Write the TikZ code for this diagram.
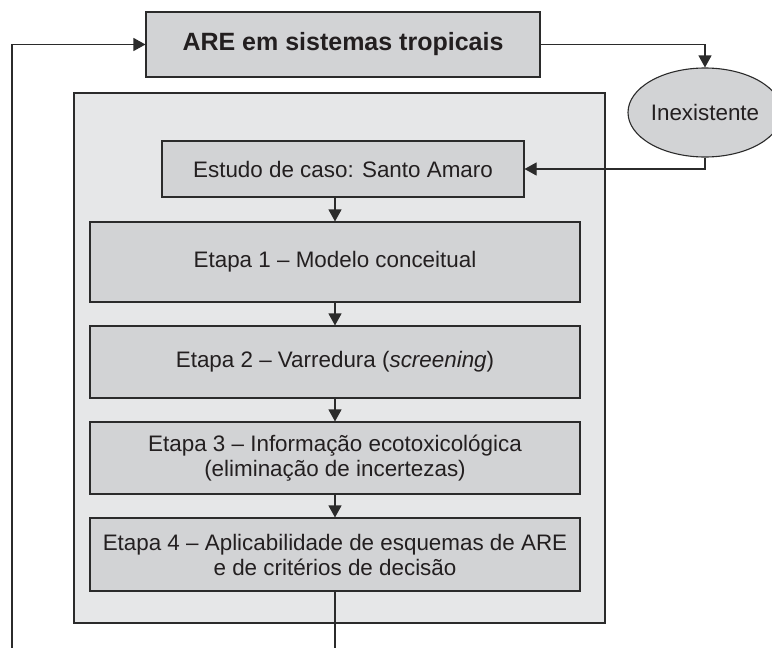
\documentclass[tikz,border=0pt]{standalone}
\usepackage{fontspec}
\setmainfont{Liberation Sans}
\usetikzlibrary{arrows.meta, shapes.geometric}
\definecolor{boxgray}{HTML}{D2D3D5}
\definecolor{panelgray}{HTML}{E6E7E8}
\definecolor{linegray}{HTML}{2B2B2B}
\definecolor{textgray}{HTML}{231F20}

\begin{document}
\begin{tikzpicture}[x = 1pt, y = -1pt, line width = 1.1pt,
		box/.style = {draw = linegray, fill = boxgray, text = textgray, inner sep = 0pt, align = center, font = \fontsize{22.4}{25}\selectfont},
		link/.style = {draw = linegray, -{Triangle[length = 12pt, width = 13pt]}}]
			\def\xMID{335};
			\def\wSTEP{490};

			\useasboundingbox (0,0) rectangle (772,648);
			\fill [white] (0,0) rectangle (772,648);

			\begin{scope}
				\node [box, minimum width = 394pt, minimum height = 65pt, font = \fontsize{25}{28}\selectfont\bfseries] (are) at (343,44.5) {ARE em sistemas tropicais};
				\node [box, ellipse, minimum width = 154pt, minimum height = 89pt] (inex) at (705,112.5) {Inexistente};
			\end{scope}

			\draw [draw = linegray, fill = panelgray] (74,93) rectangle (605,623);

			\begin{scope}
				\node [box, minimum width = 362pt, minimum height = 56pt] (estudo) at (343,169) {Estudo de caso: Santo Amaro};
				\node [box, minimum width = \wSTEP pt, minimum height = 80pt] (etapaA) at (\xMID,262) {Etapa 1 \textendash{} Modelo conceitual};
				\node [box, minimum width = \wSTEP pt, minimum height = 72pt] (etapaB) at (\xMID,362) {Etapa 2 \textendash{} Varredura (\textit{screening})};
				\node [box, minimum width = \wSTEP pt, minimum height = 72pt] (etapaC) at (\xMID,458) {Etapa 3 \textendash{} Informação ecotoxicológica\\(eliminação de incertezas)};
				\node [box, minimum width = \wSTEP pt, minimum height = 73pt] (etapaD) at (\xMID,554.5) {Etapa 4 \textendash{} Aplicabilidade de esquemas de ARE\\e de critérios de decisão};
			\end{scope}

			\coordinate (loopL) at (12,648);
			\coordinate (loopB) at (\xMID,648);

			\begin{scope}
				\draw [link] (are.east) -| (inex.north);
				\draw [link] (inex.south) |- (estudo.east);
				\draw [link] (etapaA.north |- estudo.south) -- (etapaA.north);
				\draw [link] (etapaA.south) -- (etapaB.north);
				\draw [link] (etapaB.south) -- (etapaC.north);
				\draw [link] (etapaC.south) -- (etapaD.north);
				\draw [draw = linegray] (etapaD.south) -- (loopB);
				\draw [link] (loopL) |- (are.west);
			\end{scope}
		\end{tikzpicture}
\end{document}
